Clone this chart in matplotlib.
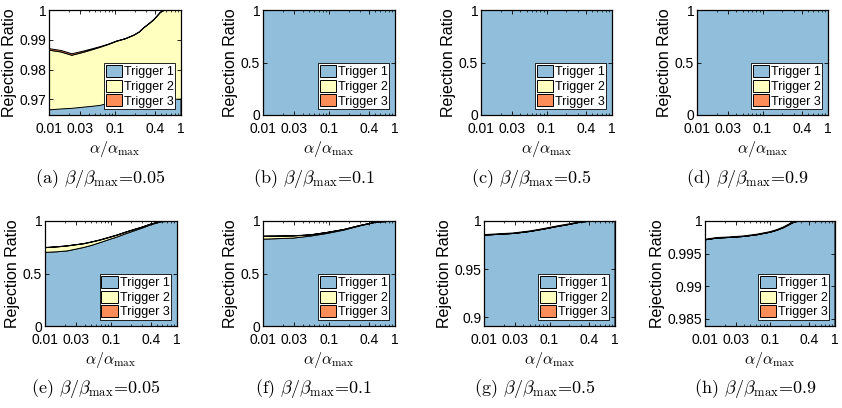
import matplotlib
matplotlib.use("Agg")
import matplotlib.pyplot as plt

plt.rcParams['font.family'] = ['Liberation Sans', 'DejaVu Sans']
plt.rcParams['mathtext.fontset'] = 'cm'

colors = ['#91bfdb', '#ffffbf', '#fc8d59']
labels = ['Trigger 1', 'Trigger 2', 'Trigger 3']
xtick_vals = [0.01, 0.03, 0.1, 0.4, 1]
xtick_text = ['0.01', '0.03', '0.1', '0.4', '1']

# (a) beta/beta_max = 0.05, first row
alpha_a = [0.01, 0.015, 0.0218, 0.0328, 0.045, 0.059, 0.08, 0.105, 0.14, 0.189,
           0.23, 0.268, 0.32, 0.38, 0.43, 0.48, 0.54, 0.7, 1.0]
t1_a = [0.9667, 0.9670, 0.9672, 0.9676, 0.9679, 0.9682, 0.9690, 0.9692, 0.9695, 0.9697,
        0.9698, 0.9699, 0.9700, 0.9701, 0.9701, 0.9702, 0.9702, 0.9702, 0.9703]
t2_a = [0.0200, 0.0191, 0.0178, 0.0184, 0.0190, 0.0195, 0.0197, 0.0205, 0.0210, 0.0220,
        0.0230, 0.0243, 0.0255, 0.0268, 0.0281, 0.0292, 0.0298, 0.0298, 0.0297]
t3_a = [0.0005, 0.0005, 0.0005, 0.0004, 0.0003, 0.0002, 0.0001, 0.0001, 0, 0,
        0, 0, 0, 0, 0, 0, 0, 0, 0]

# (b), (c), (d): everything rejected by trigger 1
alpha_flat = [0.01, 1.0]
t1_flat = [1.0, 1.0]
t2_flat = [0.0, 0.0]
t3_flat = [0.0, 0.0]

# (e) beta/beta_max = 0.05, second row
alpha_e = [0.01, 0.015, 0.0214, 0.028, 0.038, 0.05, 0.068, 0.09, 0.123, 0.16,
           0.22, 0.3, 0.39, 0.56, 0.7, 1.0]
t1_e = [0.706, 0.712, 0.720, 0.735, 0.753, 0.773, 0.800, 0.826, 0.854, 0.881,
        0.911, 0.940, 0.968, 0.997, 1.0, 1.0]
t2_e = [0.045, 0.046, 0.047, 0.042, 0.035, 0.031, 0.024, 0.020, 0.017, 0.015,
        0.012, 0.009, 0.006, 0.003, 0, 0]
t3_e = [0.002, 0.002, 0.002, 0.002, 0.002, 0.002, 0.002, 0.002, 0.002, 0.001,
        0.001, 0.001, 0.001, 0, 0, 0]

# (f) beta/beta_max = 0.1
alpha_f = [0.01, 0.015, 0.028, 0.051, 0.091, 0.164, 0.29, 0.52, 0.75, 1.0]
t1_f = [0.832, 0.836, 0.842, 0.861, 0.886, 0.918, 0.959, 0.994, 1.0, 1.0]
t2_f = [0.027, 0.024, 0.020, 0.011, 0.009, 0.005, 0.003, 0.002, 0, 0]
t3_f = [0.002, 0.002, 0.002, 0.001, 0.001, 0.001, 0, 0, 0, 0]

# (g) beta/beta_max = 0.5
alpha_g = [0.01, 0.0156, 0.028, 0.05, 0.08, 0.128, 0.205, 0.29, 0.37, 1.0]
t1_g = [0.9859, 0.9866, 0.9876, 0.9897, 0.9921, 0.9948, 0.9972, 0.9993, 1.0, 1.0]
t2_g = [0] * 10
t3_g = [0] * 10

# (h) beta/beta_max = 0.9
alpha_h = [0.01, 0.015, 0.024, 0.039, 0.062, 0.079, 0.1, 0.127, 0.16, 0.2,
           0.23, 0.26, 1.0]
t1_h = [0.9972, 0.99746, 0.99756, 0.99771, 0.99797, 0.99817, 0.99837, 0.99868,
        0.99908, 0.99959, 0.9999, 1.0, 1.0]
t2_h = [0] * 13
t3_h = [0] * 13

captions = ['(a)', '(b)', '(c)', '(d)', '(e)', '(f)', '(g)', '(h)']
betas = ['0.05', '0.1', '0.5', '0.9', '0.05', '0.1', '0.5', '0.9']

panels = [
    (alpha_a, t1_a, t2_a, t3_a, (0.9648, 1), [0.97, 0.98, 0.99, 1], ['0.97', '0.98', '0.99', '1']),
    (alpha_flat, t1_flat, t2_flat, t3_flat, (0, 1), [0, 0.5, 1], ['0', '0.5', '1']),
    (alpha_flat, t1_flat, t2_flat, t3_flat, (0, 1), [0, 0.5, 1], ['0', '0.5', '1']),
    (alpha_flat, t1_flat, t2_flat, t3_flat, (0, 1), [0, 0.5, 1], ['0', '0.5', '1']),
    (alpha_e, t1_e, t2_e, t3_e, (0, 1), [0, 0.5, 1], ['0', '0.5', '1']),
    (alpha_f, t1_f, t2_f, t3_f, (0, 1), [0, 0.5, 1], ['0', '0.5', '1']),
    (alpha_g, t1_g, t2_g, t3_g, (0.891, 1), [0.9, 0.95, 1], ['0.9', '0.95', '1']),
    (alpha_h, t1_h, t2_h, t3_h, (0.9839, 1), [0.985, 0.99, 0.995, 1], ['0.985', '0.99', '0.995', '1']),
]

# axes boxes in pixels: left, top, width (height is 105 for all)
boxes = [(49, 10, 132), (263, 10, 132), (481, 10, 131), (697, 10, 131),
         (45, 221, 132), (263, 221, 132), (484, 221, 131), (705, 221, 130)]
W, H = 842, 408

fig = plt.figure(figsize=(W / 100, H / 100), dpi=100)

for i, (x, s1, s2, s3, ylim, yt, ytl) in enumerate(panels):
    left, top, width = boxes[i]
    ax = fig.add_axes([left / W, (H - top - 105) / H, width / W, 105 / H])
    polys = ax.stackplot(x, s1, s2, s3, colors=colors, edgecolor='black', linewidth=0.7)
    ax.set_xscale('log')
    ax.set_xlim(0.01, 1)
    ax.set_ylim(*ylim)
    ax.set_xticks(xtick_vals)
    ax.set_xticklabels(xtick_text)
    ax.set_yticks(yt)
    ax.set_yticklabels(ytl)
    ax.tick_params(which='both', direction='in', top=True, right=True, labelsize=10)
    ax.tick_params(axis='x', pad=5)
    ax.tick_params(axis='y', pad=2)
    ax.tick_params(which='major', length=3, width=0.6)
    ax.tick_params(which='minor', length=1.5, width=0.5)
    for sp in ax.spines.values():
        sp.set_linewidth(0.9)
    ax.set_xlabel(r'$\alpha/\alpha_{\max}$', fontsize=11.5, labelpad=2)
    ax.set_ylabel('Rejection Ratio', fontsize=11.5, labelpad=2)
    leg = ax.legend(polys, labels, loc='lower right', fontsize=9, handlelength=1.3,
                    handleheight=1.1, labelspacing=0.12, handletextpad=0.15,
                    borderpad=0.15, borderaxespad=0.45, fancybox=False, framealpha=1)
    leg.get_frame().set_edgecolor('black')
    leg.get_frame().set_linewidth(0.6)
    cy = 178 if i < 4 else 388
    cx = left + width / 2 - 15
    fig.text(cx / W, 1 - cy / H, captions[i] + r' $\beta/\beta_{\max}$=' + betas[i],
             fontfamily='cmr10', fontsize=13, ha='center', va='center')

fig.savefig('out.png', dpi=100)
